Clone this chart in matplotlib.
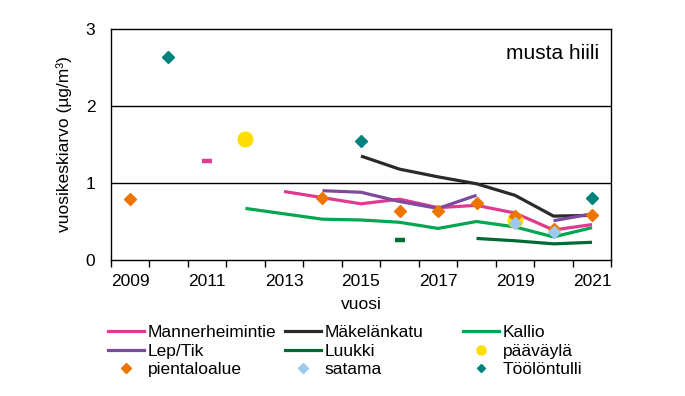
import numpy as np
import matplotlib
matplotlib.use("Agg")
import matplotlib.pyplot as plt
from matplotlib.lines import Line2D

plt.rcParams['font.family'] = ['Liberation Sans', 'DejaVu Sans']

years = [2009, 2010, 2011, 2012, 2013, 2014, 2015, 2016, 2017, 2018, 2019, 2020, 2021]
tick_years = ["2009", "2011", "2013", "2015", "2017", "2019", "2021"]
nan = np.nan

mannerheimintie = [nan, nan, 1.28, nan, 0.89, 0.81, 0.73, 0.79, 0.68, 0.71, 0.61, 0.39, 0.46]
makelankatu     = [nan, nan, nan, nan, nan, nan, 1.35, 1.18, 1.08, 0.99, 0.84, 0.57, 0.58]
kallio          = [nan, nan, nan, 0.67, 0.60, 0.53, 0.52, 0.49, 0.41, 0.50, 0.43, 0.30, 0.42]
leptik          = [nan, nan, nan, nan, nan, 0.90, 0.88, 0.76, 0.67, 0.84, nan, 0.51, 0.60]
luukki          = [nan, nan, nan, nan, nan, nan, nan, 0.26, nan, 0.28, 0.25, 0.21, 0.23]
paavayla        = [nan, nan, nan, 1.57, nan, nan, nan, nan, nan, nan, 0.52, nan, nan]
pientaloalue    = [0.79, nan, nan, nan, nan, 0.80, nan, 0.63, 0.63, 0.74, 0.57, 0.40, 0.59]
satama          = [nan, nan, nan, nan, nan, nan, nan, nan, nan, nan, 0.48, 0.36, nan]
toolontulli     = [nan, 2.63, nan, nan, nan, nan, 1.54, nan, nan, nan, nan, nan, 0.80]

C_MAN = "#DE3A8E"
C_MAK = "#2A2A2A"
C_KAL = "#00A651"
C_LEP = "#7F4A9E"
C_LUU = "#006A35"
C_PAA = "#FFDD00"
C_PIE = "#EE7400"
C_SAT = "#9CC9EC"
C_TOO = "#00827F"

fig = plt.figure(figsize=(6.85, 3.96), dpi=100)
ax = fig.add_axes([0.1616, 0.3434, 0.8924 - 0.1616, 0.9268 - 0.3434])

x = np.arange(len(years))
lw = 2.3

def line_series(vals, color):
    v = np.array(vals, dtype=float)
    ax.plot(x, v, color=color, lw=lw, solid_capstyle='butt', solid_joinstyle='round', zorder=3)
    for i in range(len(v)):
        if np.isnan(v[i]):
            continue
        left = np.isnan(v[i - 1]) if i > 0 else True
        right = np.isnan(v[i + 1]) if i < len(v) - 1 else True
        if left and right:
            ax.plot([x[i]], [v[i]], marker='_', color=color, ms=7.5, mew=3.2, zorder=3)

line_series(kallio, C_KAL)
line_series(luukki, C_LUU)
line_series(makelankatu, C_MAK)
line_series(mannerheimintie, C_MAN)
line_series(leptik, C_LEP)

ax.plot(x, paavayla, ls='none', marker='o', ms=10.5, color=C_PAA, mec=C_PAA, zorder=4)
ax.plot(x, pientaloalue, ls='none', marker='D', ms=6.3, color=C_PIE, mec=C_PIE, zorder=5)
ax.plot(x, satama, ls='none', marker='D', ms=6.3, color=C_SAT, mec=C_SAT, zorder=6)
ax.plot(x, toolontulli, ls='none', marker='D', ms=6.6, color=C_TOO, mec=C_TOO, zorder=6)

ax.set_ylim(0, 3)
ax.set_xlim(-0.5, len(years) - 0.5)
ax.set_yticks([0, 1, 2, 3])
ax.set_yticklabels(["0", "1", "2", "3"], fontsize=12.5)
ax.tick_params(axis='y', length=0, pad=11)
for yv in [1, 2]:
    ax.axhline(yv, color='black', lw=1.0, zorder=1)

ax.set_xticks(np.arange(-0.5, len(years), 1.0))
ax.set_xticklabels([])
ax.tick_params(axis='x', which='major', length=5, width=1.0, direction='out')
ax.set_xticks(np.arange(0, len(years), 2), minor=True)
ax.set_xticklabels(tick_years, minor=True, fontsize=12.5)
ax.tick_params(axis='x', which='minor', length=0, pad=10)

for s in ax.spines.values():
    s.set_linewidth(1.0)
    s.set_color('black')

ax.set_xlabel("vuosi", fontsize=12.5, labelpad=6)
ax.set_ylabel("vuosikeskiarvo (µg/m³)", fontsize=12.5, labelpad=10)

ax.text(0.975, 0.895, "musta hiili", transform=ax.transAxes, ha='right', va='center', fontsize=15)

# Legend: three columns
def h_line(c):
    return Line2D([], [], color=c, lw=2.3)

def h_mark(c, m, ms):
    return Line2D([], [], color=c, ls='none', marker=m, ms=ms, mec=c)

cols = [
    ([h_line(C_MAN), h_line(C_LEP), h_mark(C_PIE, 'D', 5.5)], ["Mannerheimintie", "Lep/Tik", "pientaloalue"]),
    ([h_line(C_MAK), h_line(C_LUU), h_mark(C_SAT, 'D', 5.5)], ["Mäkelänkatu", "Luukki", "satama"]),
    ([h_line(C_KAL), h_mark(C_PAA, 'o', 6.5), h_mark(C_TOO, 'D', 4.5)], ["Kallio", "pääväylä", "Töölöntulli"]),
]
xs = [108 / 685, 285 / 685, 463 / 685]
for (hs, ls_), xx in zip(cols, xs):
    leg = fig.legend(hs, ls_, loc='upper left', bbox_to_anchor=(xx, 1 - 325 / 396),
                     frameon=False, fontsize=12.5, handlelength=2.1, handletextpad=0.2,
                     labelspacing=0.2, borderpad=0, borderaxespad=0)

fig.savefig("out.png", dpi=100)
